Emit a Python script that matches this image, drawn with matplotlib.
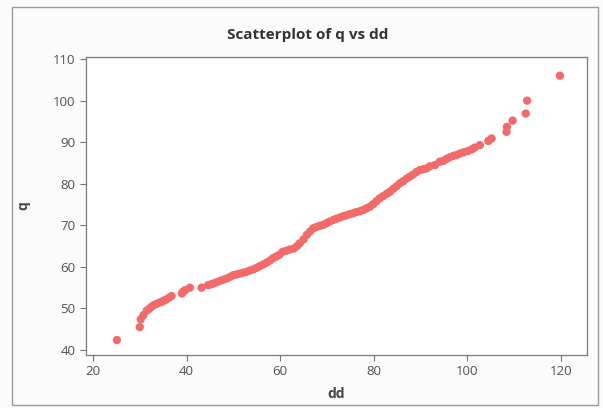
import matplotlib.pyplot as plt
from matplotlib.patches import Rectangle

plt.rcParams['font.family'] = ['Open Sans', 'DejaVu Sans']

# values
dd = [25.1, 30.0, 30.2, 30.8, 31.5, 32.0, 32.5, 33.0, 33.6, 34.2, 34.7, 35.2,
      35.7, 36.3, 36.8, 39.0, 39.2, 39.7, 40.7, 43.2, 44.6, 45.2, 45.7, 46.4,
      47.1, 47.8, 48.6, 49.3, 50.0, 50.7, 51.4, 52.1, 52.8, 53.5, 54.3, 55.0,
      55.7, 56.4, 57.1, 57.8, 58.5, 59.2, 59.8, 60.5, 61.3, 62.1, 62.9, 63.6,
      64.2, 65.0, 65.7, 66.4, 67.1, 67.8, 68.5, 69.2, 69.9, 70.6, 71.4, 72.1,
      72.8, 73.5, 74.2, 74.9, 75.6, 76.3, 77.1, 77.8, 78.5, 79.2, 79.9, 80.6,
      81.3, 82.0, 82.8, 83.5, 84.2, 84.9, 85.6, 86.3, 87.0, 87.7, 88.4, 89.1,
      89.9, 90.6, 91.3, 92.0, 93.1, 94.1, 94.9, 95.6, 96.3, 97.0, 97.7, 98.5,
      99.3, 100.2, 101.0, 101.6, 102.7, 104.5, 105.2, 108.4, 108.5, 109.7,
      112.5, 112.8, 119.8]
q = [42.4, 45.5, 47.4, 48.4, 49.5, 49.9, 50.4, 50.8, 51.1, 51.4, 51.6, 51.9,
     52.2, 52.6, 53.0, 53.6, 54.0, 54.4, 55.0, 55.0, 55.6, 55.8, 56.0, 56.3,
     56.6, 56.9, 57.2, 57.6, 58.0, 58.2, 58.4, 58.6, 58.8, 59.1, 59.4, 59.8,
     60.2, 60.6, 61.0, 61.5, 62.1, 62.5, 62.9, 63.6, 63.9, 64.2, 64.4, 65.0,
     65.7, 66.6, 67.7, 68.5, 69.3, 69.6, 69.9, 70.1, 70.5, 70.9, 71.3, 71.6,
     71.9, 72.2, 72.4, 72.7, 72.9, 73.2, 73.4, 73.7, 74.1, 74.5, 75.1, 75.8,
     76.5, 77.0, 77.6, 78.1, 78.8, 79.4, 80.1, 80.6, 81.2, 81.7, 82.2, 82.8,
     83.3, 83.5, 83.7, 84.2, 84.5, 85.3, 85.5, 86.0, 86.4, 86.7, 86.9, 87.3,
     87.6, 87.9, 88.3, 88.7, 89.3, 90.3, 90.9, 92.5, 93.7, 95.2,
     96.9, 100.0, 106.0]

xticks = [20, 40, 60, 80, 100, 120]
yticks = [40, 50, 60, 70, 80, 90, 100, 110]

fig = plt.figure(figsize=(6.03, 4.08), dpi=100, facecolor='#fbfbfb')
# outer frame of the graph window
fig.patches.append(Rectangle((12/603, 3/408), 586/603, 398/408, transform=fig.transFigure,
                             fill=False, edgecolor='#9a9a9a', linewidth=1.0))

ax = fig.add_axes([86/603, 53/408, 501/603, 298/408])
ax.set_facecolor('white')
ax.scatter(dd, q, s=36, color='#f26a6a', edgecolors='none', zorder=3)

ax.set_xlim(18.5, 125.6)
ax.set_ylim(38.8, 110.5)
ax.set_xticks(xticks)
ax.set_yticks(yticks)
ax.tick_params(direction='out', length=4, width=0.8, color='#777777',
               labelcolor='#505050', labelsize=9.5, top=False, right=False)
for s in ax.spines.values():
    s.set_color('#7a7a7a')
    s.set_linewidth(0.9)

ax.set_xlabel('dd', fontsize=10, fontweight='bold', color='#444444', labelpad=6)
ax.set_ylabel('q', fontsize=10, fontweight='bold', color='#444444', labelpad=16)
fig.text(308/603, 1 - 35/408, 'Scatterplot of q vs dd', ha='center', va='center',
         fontsize=11, fontweight='bold', color='#333333')

fig.savefig('out.png', dpi=100, facecolor=fig.get_facecolor())
